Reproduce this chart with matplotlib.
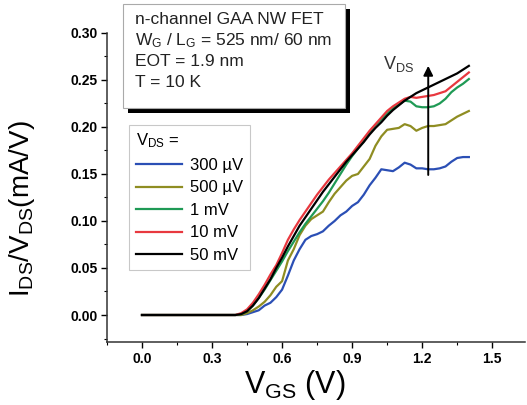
import numpy as np
import matplotlib.pyplot as plt
from matplotlib.patches import Rectangle

plt.rcParams['font.family'] = ['Liberation Sans', 'DejaVu Sans']
plt.rcParams['mathtext.fontset'] = 'custom'
plt.rcParams['mathtext.rm'] = 'Liberation Sans'
plt.rcParams['mathtext.it'] = 'Liberation Sans'

# gate voltage grid (V)
vgs = [0.0, 0.40, 0.425, 0.45, 0.475, 0.50, 0.525, 0.55, 0.575, 0.60, 0.625,
       0.65, 0.675, 0.70, 0.725, 0.75, 0.775, 0.80, 0.825, 0.85, 0.875, 0.90,
       0.925, 0.95, 0.975, 1.00, 1.025, 1.05, 1.075, 1.10, 1.125, 1.15, 1.175,
       1.20, 1.225, 1.25, 1.275, 1.30, 1.325, 1.35, 1.375, 1.40]

# I_DS / V_DS (mA/V) for each V_DS
g_300uV = [0, 0, 0, 0.001, 0.003, 0.005, 0.010, 0.013, 0.019, 0.027, 0.042,
           0.058, 0.070, 0.080, 0.084, 0.086, 0.089, 0.095, 0.100, 0.106, 0.110, 0.116,
           0.120, 0.128, 0.138, 0.146, 0.155, 0.154, 0.153, 0.157, 0.162, 0.160, 0.156,
           0.156, 0.155, 0.155, 0.156, 0.158, 0.163, 0.167, 0.168, 0.168]
g_500uV = [0, 0, 0, 0.002, 0.005, 0.009, 0.014, 0.021, 0.030, 0.036, 0.058,
           0.070, 0.085, 0.095, 0.102, 0.106, 0.110, 0.120, 0.129, 0.136, 0.143, 0.148,
           0.150, 0.158, 0.166, 0.180, 0.190, 0.197, 0.198, 0.199, 0.203, 0.201, 0.196,
           0.199, 0.201, 0.201, 0.202, 0.203, 0.207, 0.211, 0.214, 0.217]
g_1mV = [0, 0, 0.001, 0.004, 0.010, 0.018, 0.027, 0.037, 0.047, 0.057, 0.068,
         0.078, 0.088, 0.097, 0.105, 0.113, 0.121, 0.130, 0.140, 0.150, 0.160, 0.169,
         0.177, 0.185, 0.195, 0.202, 0.208, 0.214, 0.220, 0.224, 0.228, 0.227, 0.222,
         0.221, 0.221, 0.222, 0.225, 0.230, 0.237, 0.242, 0.246, 0.251]
g_10mV = [0, 0, 0.002, 0.006, 0.013, 0.022, 0.032, 0.043, 0.053, 0.066, 0.080,
          0.091, 0.101, 0.110, 0.119, 0.128, 0.136, 0.144, 0.151, 0.158, 0.165, 0.172,
          0.180, 0.188, 0.196, 0.203, 0.210, 0.217, 0.222, 0.226, 0.230, 0.232, 0.231,
          0.232, 0.233, 0.234, 0.236, 0.238, 0.243, 0.248, 0.253, 0.258]
g_50mV = [0, 0, 0.001, 0.004, 0.010, 0.018, 0.028, 0.038, 0.050, 0.061, 0.073,
          0.084, 0.095, 0.104, 0.113, 0.122, 0.131, 0.139, 0.147, 0.155, 0.163, 0.170,
          0.177, 0.184, 0.192, 0.199, 0.205, 0.212, 0.218, 0.223, 0.228, 0.232, 0.236,
          0.239, 0.242, 0.245, 0.248, 0.251, 0.254, 0.257, 0.261, 0.265]

labels = ['300 µV', '500 µV', '1 mV', '10 mV', '50 mV']
colors = ['#2b4fb5', '#8f8d22', '#1f9a55', '#e8383f', '#000000']
series = [g_300uV, g_500uV, g_1mV, g_10mV, g_50mV]

fig = plt.figure(figsize=(5.27, 4.05), dpi=100)
ax = fig.add_axes([0.203, 0.1556, 0.793, 0.763])

for y, c, lab in zip(series, colors, labels):
    ax.plot(vgs, y, color=c, lw=1.6, label=lab)

ax.set_xlim(-0.15, 1.64)
ax.set_ylim(-0.0287, 0.30)
ax.set_xticks([0.0, 0.3, 0.6, 0.9, 1.2, 1.5])
ax.set_xticks(np.arange(-0.15, 1.64, 0.15), minor=True)
ax.set_yticks([0.0, 0.05, 0.10, 0.15, 0.20, 0.25, 0.30])
ax.set_yticks(np.arange(-0.025, 0.301, 0.025), minor=True)
ax.xaxis.set_major_formatter(plt.FormatStrFormatter('%.1f'))
ax.yaxis.set_major_formatter(plt.FormatStrFormatter('%.2f'))
for s in ['top', 'right']:
    ax.spines[s].set_visible(False)
for s in ['left', 'bottom']:
    ax.spines[s].set_linewidth(1.1)
    ax.spines[s].set_color('#333333')
ax.tick_params(which='major', direction='out', length=4, width=1.0, labelsize=10, pad=3)
ax.tick_params(which='minor', direction='out', length=2.5, width=0.8)
for t in ax.get_xticklabels() + ax.get_yticklabels():
    t.set_fontweight('bold')

ax.set_xlabel(r'$\mathregular{V_{GS}}$ (V)', fontsize=22, labelpad=0)
ax.xaxis.set_label_coords(0.45, -0.085)
ax.set_ylabel(r'$\mathregular{I_{DS}/V_{DS}}$(mA/V)', fontsize=20, labelpad=2)
ax.yaxis.set_label_coords(-0.167, 0.43)

# V_DS arrow
ax.annotate('', xy=(1.226, 0.268), xytext=(1.226, 0.146),
            arrowprops=dict(arrowstyle='-|>', color='black', lw=1.4,
                            mutation_scale=14))
ax.text(1.10, 0.267, r'$\mathregular{V_{DS}}$', fontsize=13, color='#333333',
        ha='center', va='center')

leg = ax.legend(loc='upper left', bbox_to_anchor=(0.053, 0.702), fontsize=12,
                title=r'$\mathregular{V_{DS}}$ =', title_fontsize=12,
                frameon=True, fancybox=False, edgecolor='#bbbbbb',
                handlelength=2.8, handletextpad=0.45, labelspacing=0.45,
                borderpad=0.4, borderaxespad=0)
leg._legend_box.align = 'left'
leg.get_frame().set_linewidth(0.8)

# info box with shadow (figure coords)
W, H = 527.0, 405.0
x0, x1, y0, y1 = 123, 345, 4, 108
sh = 5
fig.patches.append(Rectangle(((x0 + sh) / W, (H - y1 - sh) / H), (x1 - x0) / W, (y1 - y0) / H,
                             transform=fig.transFigure, facecolor='black', edgecolor='none', zorder=5))
fig.patches.append(Rectangle((x0 / W, (H - y1) / H), (x1 - x0) / W, (y1 - y0) / H,
                             transform=fig.transFigure, facecolor='white', edgecolor='#aaaaaa',
                             lw=0.8, zorder=6))
info = ['n-channel GAA NW FET',
        r'$\mathregular{W_G}$ / $\mathregular{L_G}$ = 525 nm/ 60 nm',
        'EOT = 1.9 nm',
        'T = 10 K']
for i, line in enumerate(info):
    fig.text((x0 + 12) / W, (H - 20 - i * 20.8) / H, line, fontsize=12.5, color='#222222',
             ha='left', va='center', zorder=7)

fig.savefig('out.png', dpi=100)
